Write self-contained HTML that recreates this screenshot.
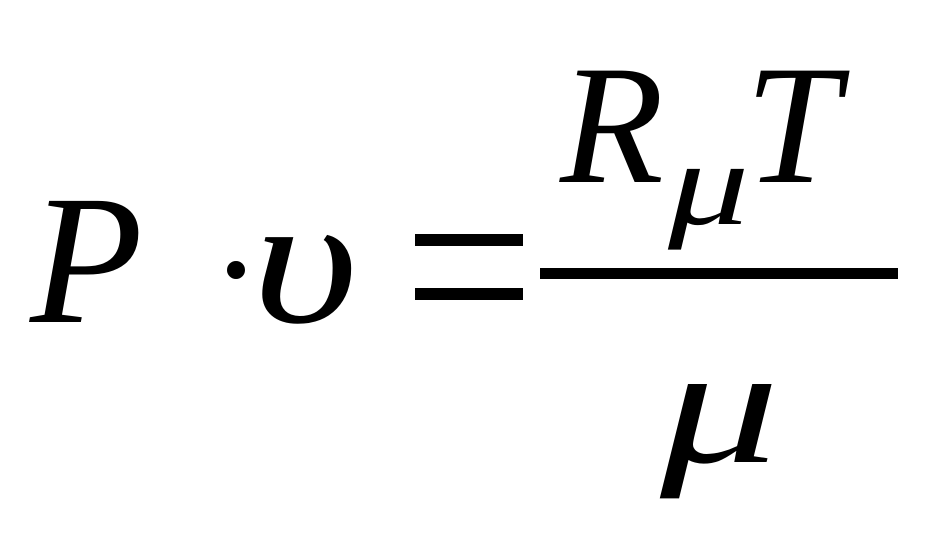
<!DOCTYPE html>
<html><head><meta charset="utf-8"><style>
html,body{margin:0;padding:0;background:#fff;}
svg{display:block;}
text{font-family:"Liberation Serif","DejaVu Serif",serif;fill:#000;}
</style></head><body>
<svg width="933" height="536" viewBox="0 0 933 536" xmlns="http://www.w3.org/2000/svg">
  <text x="30" y="322" font-size="185" font-style="italic">P</text>
  <circle cx="236" cy="270" r="9"/>
  <text transform="translate(252,322) scale(1.25,1)" x="0" y="0" font-size="185" font-style="italic">υ</text>
  <rect x="415" y="234" width="108" height="12"/>
  <rect x="415" y="288" width="108" height="12"/>
  <rect x="540" y="268" width="358" height="11"/>
  <text x="560" y="182" font-size="170" font-style="italic">R</text>
  <text transform="translate(668,224) scale(1.35,1)" x="0" y="0" font-size="120" font-style="italic">μ</text>
  <text x="745" y="182" font-size="170" font-style="italic">T</text>
  <text transform="translate(660,462) scale(1.4,1)" x="0" y="0" font-size="170" font-style="italic">μ</text>
</svg>
</body></html>
